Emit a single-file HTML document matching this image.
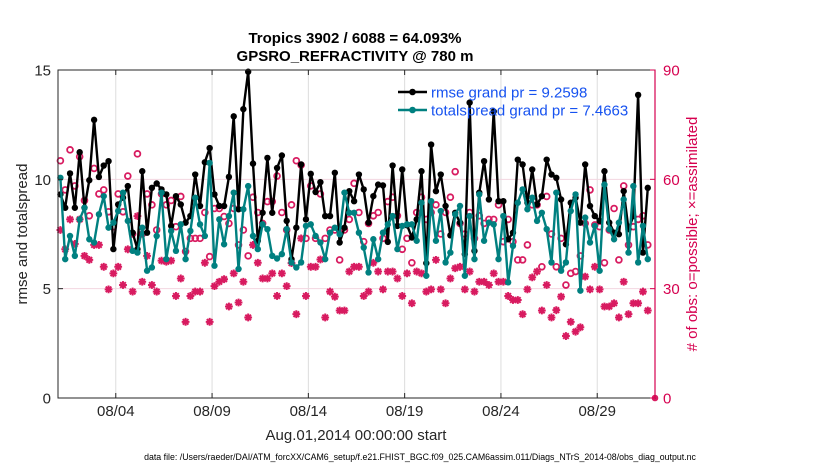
<!DOCTYPE html>
<html><head><meta charset="utf-8">
<style>
body{margin:0;background:#fff;}
svg{display:block;font-family:"Liberation Sans",Arial,sans-serif;}
</style></head>
<body>
<svg id="chart" width="830" height="470" viewBox="0 0 830 470" xmlns="http://www.w3.org/2000/svg">
<rect width="830" height="470" fill="#fff"/>
<g id="grid"></g>
<g id="series"></g>
<rect x="58" y="70" width="597" height="328" fill="none" stroke="#262626" stroke-width="1"/>
<line x1="655" y1="70" x2="655" y2="398" stroke="#d6004f" stroke-width="1.2"/>
<g id="axes"></g>
<text x="355" y="43" text-anchor="middle" font-size="15" font-weight="bold" fill="#000">Tropics 3902 / 6088 = 64.093%</text>
<text x="355" y="61" text-anchor="middle" font-size="15" font-weight="bold" fill="#000">GPSRO_REFRACTIVITY @ 780 m</text>
<text transform="translate(27,234) rotate(-90)" text-anchor="middle" font-size="15" fill="#262626">rmse and totalspread</text>
<text transform="translate(697,234) rotate(-90)" text-anchor="middle" font-size="15" fill="#d6004f"># of obs: o=possible; ×=assimilated</text>
<text x="356" y="440" text-anchor="middle" font-size="15" fill="#262626">Aug.01,2014 00:00:00 start</text>
<text x="420" y="460" text-anchor="middle" font-size="8.8" fill="#000">data file: /Users/raeder/DAI/ATM_forcXX/CAM6_setup/f.e21.FHIST_BGC.f09_025.CAM6assim.011/Diags_NTrS_2014-08/obs_diag_output.nc</text>
<g id="legend">
 <g>
  <line x1="398" y1="92" x2="427" y2="92" stroke="#000" stroke-width="2.5"/>
  <circle cx="412.5" cy="92" r="3.3" fill="#000"/>
  <text x="431" y="97.5" font-size="15" fill="#1652f0">rmse grand pr = 9.2598</text>
 </g>
 <g>
  <line x1="398" y1="110" x2="427" y2="110" stroke="#008080" stroke-width="2.5"/>
  <circle cx="412.5" cy="110" r="3.3" fill="#008080"/>
  <text x="431" y="115.5" font-size="15" fill="#1652f0">totalspread grand pr = 7.4663</text>
 </g>
</g>
</svg>
<script>
const rmse = [9.31,8.70,10.27,8.70,11.24,8.70,9.96,12.72,10.11,10.63,10.83,6.81,8.85,9.16,9.69,7.56,6.81,10.37,7.56,9.61,9.81,9.54,9.31,7.87,9.23,8.85,8.02,8.32,10.22,8.78,10.78,
11.43,9.31,8.78,8.78,10.11,12.88,8.63,13.21,14.92,10.72,7.19,8.47,10.98,8.47,10.52,11.09,8.10,6.35,7.79,10.68,8.17,10.25,9.42,9.87,8.32,8.32,10.30,7.11,7.79,9.46,
9.00,10.22,9.54,8.02,9.23,9.76,9.72,7.14,10.63,7.87,10.45,7.90,7.34,8.17,10.37,6.17,11.59,9.46,10.22,8.78,7.44,8.47,8.02,6.58,13.51,6.73,9.39,10.83,9.08,13.10,9.00,
9.00,7.26,7.56,10.90,10.68,8.93,10.45,8.85,9.23,10.90,10.22,10.07,9.08,7.03,8.93,9.16,8.02,10.68,8.78,8.32,8.10,10.37,8.02,7.56,7.49,9.46,7.72,8.32,13.86,6.65,9.61];
const spread = [10.07,6.35,7.41,6.50,8.17,8.70,7.26,7.11,8.40,9.23,7.79,8.02,8.55,9.39,8.10,6.73,6.65,7.79,5.82,5.97,7.41,9.39,6.35,7.64,6.73,7.94,6.35,7.64,9.16,7.94,7.41,
10.75,6.05,8.17,7.03,8.32,9.39,5.90,8.63,9.69,7.41,6.81,7.94,7.72,6.50,6.38,6.58,7.72,6.20,5.97,6.20,7.87,7.94,7.41,7.11,6.35,7.56,7.79,7.49,9.39,8.47,
8.47,7.56,6.88,5.74,7.26,6.35,7.56,7.94,8.32,6.81,7.87,7.94,7.94,7.19,8.93,5.59,9.00,7.19,8.55,6.20,6.65,8.40,8.78,5.59,8.32,6.35,9.31,7.19,8.02,7.94,6.35,
8.32,5.29,6.96,8.93,9.54,8.63,9.16,8.10,8.47,7.72,6.20,9.39,5.82,6.20,8.55,9.31,4.91,8.25,7.11,7.87,5.82,9.76,7.72,7.26,8.02,9.08,6.65,9.69,6.20,7.87,6.35];
const nPossible = [65.1,57.1,68.1,58.2,66.2,54.2,50.0,63.0,56.0,57.1,51.1,47.0,56.0,51.1,60.9,45.0,67.0,45.0,56.0,53.0,46.1,56.0,53.0,54.2,47.0,55.3,40.2,43.8,43.8,43.8,50.9,
38.8,52.0,52.0,49.8,47.9,52.0,42.0,46.1,39.0,55.1,50.9,47.9,53.9,53.9,60.9,50.9,46.1,53.0,65.1,63.9,43.8,58.2,43.8,56.0,43.8,46.1,46.1,37.9,46.1,49.0,
58.9,50.9,42.9,47.9,50.0,50.9,43.8,53.9,55.1,50.0,40.8,43.8,37.1,50.9,55.1,49.0,50.9,53.0,45.0,50.9,55.1,62.1,47.9,45.0,50.9,43.8,50.0,47.9,49.0,49.0,53.0,
42.9,49.0,42.9,37.9,37.9,42.0,53.0,53.0,36.0,55.3,45.0,36.0,43.8,31.0,34.2,34.7,39.0,47.9,57.1,47.5,47.0,37.1,46.1,52.0,37.9,58.2,42.0,47.0,49.0,50.0,42.0];
const nAssim = [46.1,40.8,49.0,42.3,49.0,39.0,37.9,42.0,42.0,36.0,29.8,34.2,36.0,31.0,40.8,29.2,49.9,31.9,39.0,31.0,29.2,37.7,37.4,37.7,28.0,32.8,20.9,28.0,29.2,29.2,37.1,
20.9,30.7,31.9,32.6,25.1,34.2,26.2,31.9,22.1,42.0,37.1,32.8,32.8,34.2,28.0,34.2,30.7,37.0,23.0,43.8,28.0,36.0,36.0,38.0,22.1,29.2,27.8,24.0,24.0,34.7,
36.0,36.0,28.0,29.2,37.1,34.7,29.8,34.7,34.7,32.8,28.0,34.2,26.0,34.7,34.2,29.2,29.8,37.9,29.8,26.0,32.8,35.6,36.0,29.8,34.7,29.2,31.9,31.9,31.0,34.2,31.9,
31.9,28.0,26.9,26.9,23.0,29.8,33.1,34.7,24.0,31.0,22.1,24.1,27.8,17.0,20.9,18.2,19.4,33.3,29.8,36.0,29.8,25.1,25.1,26.0,22.1,31.9,23.0,26.0,26.0,29.2,24.0];
const leftTicks = [0,5,10,15];
const rightTicks = [0,30,60,90];
const xTickDays = [3,8,13,18,23,28];
const xTickLabels = ["08/04","08/09","08/14","08/19","08/24","08/29"];

const NS="http://www.w3.org/2000/svg";
const X0=58,X1=655,Y0=398,Y1=70,DAYS=31;
function xDay(d){return X0+(X1-X0)*d/DAYS;}
function xIdx(i){return xDay(0.125+0.25*i);}
function yL(v){return Y0-(Y0-Y1)*v/15;}
function yR(v){return Y0-(Y0-Y1)*v/90;}
function mk(tag,attrs,parent){const e=document.createElementNS(NS,tag);for(const k in attrs)e.setAttribute(k,attrs[k]);parent.appendChild(e);return e;}
const grid=document.getElementById('grid'),ser=document.getElementById('series'),axes=document.getElementById('axes');

xTickDays.forEach((d,i)=>{
  const x=xDay(d);
  const g=mk('line',{x1:x,y1:Y1,x2:x,y2:Y0,stroke:'#dcdcdc','stroke-width':1},grid);
  
  
  const t1=mk('line',{x1:x,y1:Y0,x2:x,y2:Y0-5,stroke:'#262626'},axes);
  
  
  const t2=mk('line',{x1:x,y1:Y1,x2:x,y2:Y1+5,stroke:'#262626'},axes);
  
  
  const lb=mk('text',{x:x,y:416,'text-anchor':'middle','font-size':15,fill:'#262626'},axes);
  lb.textContent=xTickLabels[i];
  
  
});
leftTicks.forEach(v=>{
  const y=yL(v);
  if(v>0&&v<15){
    const g=mk('line',{x1:X0,y1:y,x2:X1,y2:y,stroke:'#f2d6e0','stroke-width':1},grid);
    
    
  }
  const t=mk('line',{x1:X0,y1:y,x2:X0+5,y2:y,stroke:'#262626'},axes);
  
  
  const lb=mk('text',{x:X0-7,y:y+5.5,'text-anchor':'end','font-size':15,fill:'#262626'},axes);
  lb.textContent=String(v);
  
  
});
rightTicks.forEach(v=>{
  const y=yR(v);
  const t=mk('line',{x1:X1,y1:y,x2:X1-5,y2:y,stroke:'#d6004f'},axes);
  
  
  const lb=mk('text',{x:X1+8,y:y+5.5,'text-anchor':'start','font-size':15,fill:'#d6004f'},axes);
  lb.textContent=String(v);
  
  
});

nPossible.forEach((v,i)=>{
  const c=mk('circle',{cx:xIdx(i),cy:yR(v),r:2.9,fill:'none',stroke:'#d81b60','stroke-width':1.8},ser);
  
  
});
nAssim.forEach((v,i)=>{
  const x=xIdx(i),y=yR(v),s=3.9;
  const p=mk('path',{d:`M${x-s},${y}H${x+s}M${x},${y-s}V${y+s}M${x-s*0.72},${y-s*0.72}L${x+s*0.72},${y+s*0.72}M${x-s*0.72},${y+s*0.72}L${x+s*0.72},${y-s*0.72}`,stroke:'#d81b60','stroke-width':2,fill:'none'},ser);
  
  
});
const zc=mk('circle',{cx:X1,cy:Y0,r:3.3,fill:'#d81b60'},ser);



function line(arr,color,name){
  const pts=arr.map((v,i)=>xIdx(i).toFixed(1)+','+yL(v).toFixed(1)).join(' ');
  const pl=mk('polyline',{points:pts,fill:'none',stroke:color,'stroke-width':2.4,'stroke-linejoin':'round'},ser);
  
  
  arr.forEach((v,i)=>{
    const c=mk('circle',{cx:xIdx(i),cy:yL(v),r:3.2,fill:color},ser);
    
    
  });
}
line(rmse,'#000','rmse');
line(spread,'#008080','totalspread');
</script>
</body></html>
